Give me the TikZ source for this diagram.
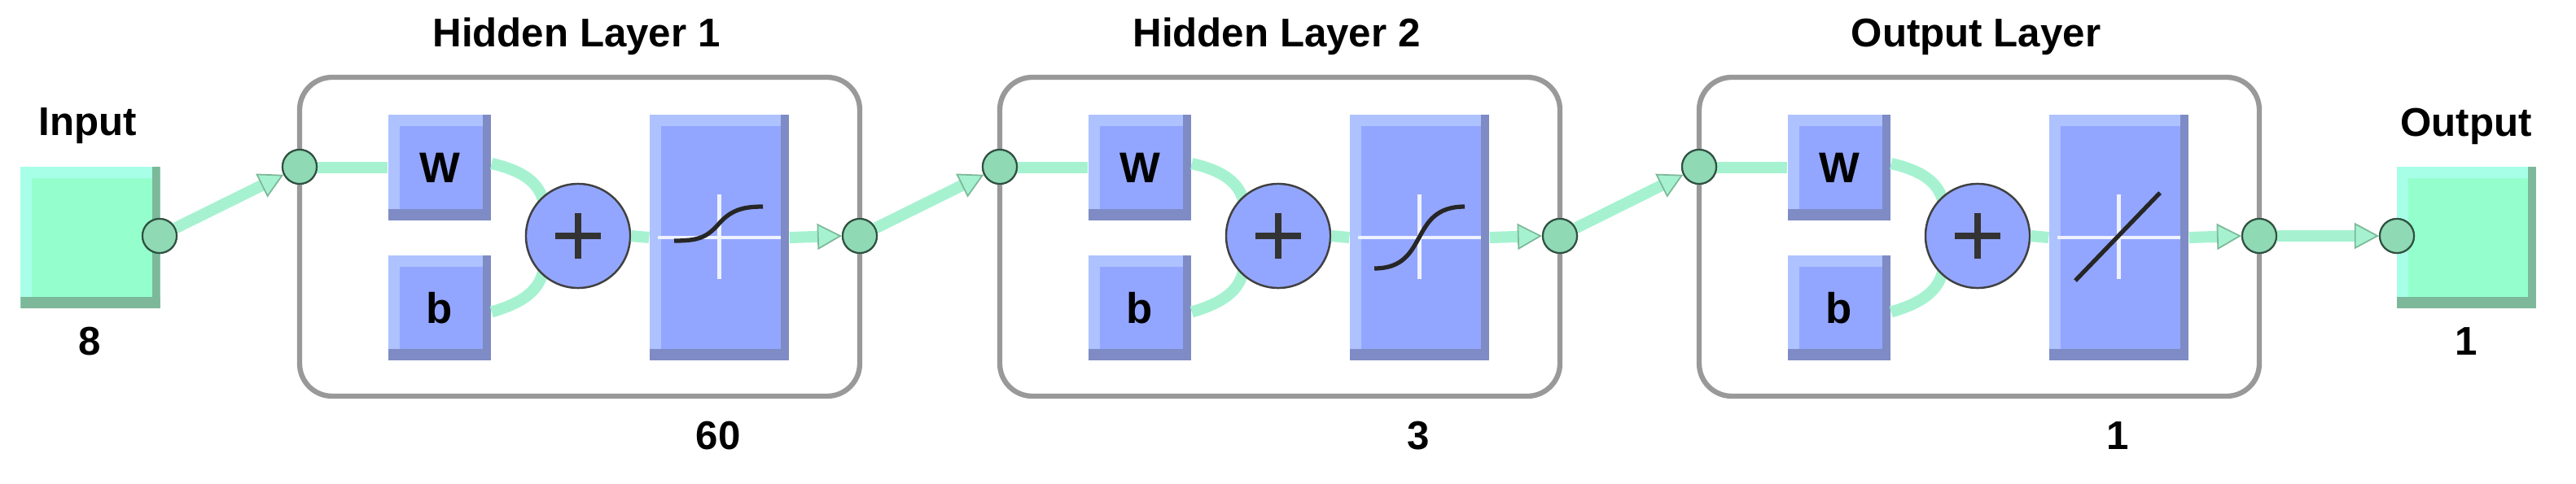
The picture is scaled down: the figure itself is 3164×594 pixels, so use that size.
\documentclass[tikz,border=0pt]{standalone}
\usepackage{fontspec}
\setmainfont{Liberation Sans}
\usetikzlibrary{arrows.meta}
\definecolor{mintline}{HTML}{A6F2D0}
\definecolor{mintdot}{HTML}{8FD9B5}
\definecolor{mintfill}{HTML}{94FFCC}
\definecolor{mintlight}{HTML}{A8FFE8}
\definecolor{mintdark}{HTML}{7DB89A}
\definecolor{bluefill}{HTML}{93A6FF}
\definecolor{bluelight}{HTML}{ADC2FF}
\definecolor{bluedark}{HTML}{7E8BC4}
\definecolor{edgedark}{HTML}{2F5040}
\begin{document}
\begin{tikzpicture}[x=0.01cm,y=-0.01cm,
  txt/.style={font=\fontsize{14}{16}\selectfont\bfseries,inner sep=0pt},
  bevel/.style n args={3}{fill=#1,draw=none,path picture={
    \fill[#2] (path picture bounding box.north west) rectangle ([yshift=-0.14cm]path picture bounding box.north east);
    \fill[#2] (path picture bounding box.north west) rectangle ([xshift=0.14cm]path picture bounding box.south west);
    \fill[#3] (path picture bounding box.south west) rectangle ([yshift=0.14cm]path picture bounding box.south east);
    \fill[#3] ([xshift=-0.1cm]path picture bounding box.north east) rectangle (path picture bounding box.south east);}},
  bluebox/.style={bevel={bluefill}{bluelight}{bluedark},inner sep=0pt,font=\fontsize{15}{16}\selectfont\bfseries},
  mintbox/.style={bevel={mintfill}{mintlight}{mintdark},inner sep=0pt,minimum width=1.71cm,minimum height=1.73cm},
  dot/.style={circle,minimum size=0.42cm,inner sep=0pt,fill=mintdot,draw=edgedark,line width=0.6pt},
  conn/.style={draw=mintline,line width=4pt},
  arr/.style={conn,-{Triangle[length=0.3cm,width=0.32cm,line width=0.5pt,fill=mintline,color=mintdark]}},
  layer/.style={draw=black!40,line width=1.8pt,rounded corners=0.4cm},
  sum/.style={circle,minimum size=1.28cm,inner sep=0pt,fill=bluefill,draw=black!75,line width=0.7pt}
]
\useasboundingbox (0,0) rectangle (3164,594);
% input / output boxes
\node[txt] (tin) at (108,155) {Input};
\node[mintbox] (inbox) at (111,292) {};
\node[txt] (n8) at (110,420) {8};
\node[dot] (din) at (196,290) {};
\node[txt] (tout) at (3029,155) {Output};
\node[mintbox] (outbox) at (3029.5,292) {};
\node[txt] (n1out) at (3029,420) {1};
\node[dot] (dout) at (2944,290) {};
\foreach \i/\L/\name/\num in {1/368/Hidden Layer 1/60,2/1228/Hidden Layer 2/3,3/2087/Output Layer/1}{
  \draw[layer] (\L,95) rectangle (\L+688,487);
  \node[txt] (title\i) at (\L+340,45) {\name};
  \node[txt] (num\i) at (\L+514,536) {\num};
  \node[bluebox,minimum width=1.26cm,minimum height=1.30cm] (W\i) at (\L+172,206) {W};
  \node[bluebox,minimum width=1.26cm,minimum height=1.29cm] (b\i) at (\L+172,378.5) {b};
  \node[bluebox,minimum width=1.71cm,minimum height=3.02cm] (T\i) at (\L+515.5,292) {};
  \draw[conn] (\L,206) -- (W\i.west);
  \draw[conn] ([yshift=0.05cm]W\i.east) .. controls (\L+275,210) and (\L+295,225) .. (\L+300,250);
  \draw[conn] ([yshift=-0.05cm]b\i.east) .. controls (\L+275,372) and (\L+295,357) .. (\L+300,330);
  \node[sum] (S\i) at (\L+342,290) {};
  \draw[black!80,line width=2.2pt] (\L+342,262) -- (\L+342,318) (\L+314,290) -- (\L+370,290);
  \draw[conn] (S\i.east) -- (T\i.west);
  \draw[white!85!bluefill,line width=1.2pt] (\L+440,292) -- (\L+591,292) (\L+515.5,239) -- (\L+515.5,343);
  \ifnum\i=3
    \draw[black!85,line width=1.5pt] (\L+462,345) -- (\L+566,237);
  \else\ifnum\i=1
    \draw[black!85,line width=1.5pt] (\L+460,296) .. controls (\L+490,296) and (\L+500,292) .. (\L+515,275) .. controls (\L+530,258) and (\L+545,254) .. (\L+569,254);
  \else
    \draw[black!85,line width=1.5pt] (\L+460,330) .. controls (\L+495,330) and (\L+505,310) .. (\L+515,292) .. controls (\L+525,274) and (\L+535,254) .. (\L+571,254);
  \fi\fi
  \node[dot] (n\i) at (\L,205) {};
  \node[dot] (o\i) at (\L+688,290) {};
  \draw[arr] (T\i.east) -- (o\i.west);
}
\draw[arr] (din) -- (n1);
\draw[arr] (o1) -- (n2);
\draw[arr] (o2) -- (n3);
\draw[arr] (o3) -- (dout);
\node[dot] at (dout) {};
\node[dot] at (din) {};
\foreach \i in {1,2,3}{\node[dot] at (n\i) {};\node[dot] at (o\i) {};}
\end{tikzpicture}
\end{document}
